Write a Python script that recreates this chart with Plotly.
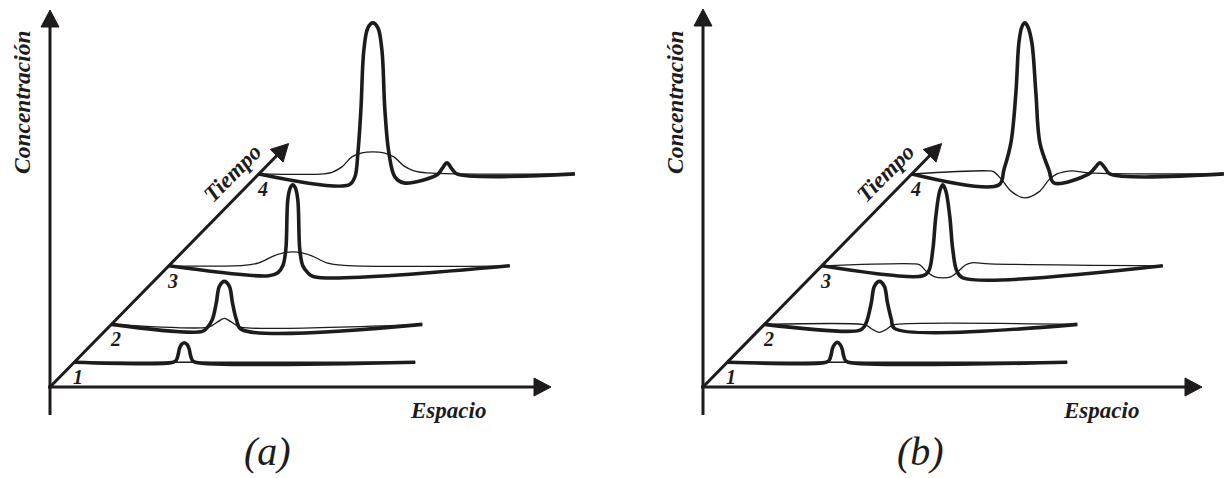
import numpy as np
import plotly.graph_objects as go

# ---------------------------------------------------------------------------
# Time slices shown along the oblique "Tiempo" axis
# ---------------------------------------------------------------------------
time_labels = ["1", "2", "3", "4"]
time_depth = [24.5, 62, 120, 211]      # position of each slice along the time axis

# ---------------------------------------------------------------------------
# Panel (a): concentration profiles, s = space from the time axis,
# c = concentration above the slice baseline. Thick = solute, thin = reference.
# ---------------------------------------------------------------------------
a1_thick_s = [0, 99, 102, 104, 105, 107, 110, 113, 115, 116, 118, 121, 341]
a1_thick_c = [0, 0, 2, 8, 13, 17.5, 19.5, 17.5, 13, 8, 2, 0, 0]
a1_thin_s = [0, 341]
a1_thin_c = [0, 0]

a2_thick_s = [0, 91, 96, 101, 105, 108, 113, 118, 121, 125, 130, 311]
a2_thick_c = [0, -7, -3, 5, 22, 38, 43, 38, 22, 5, -5, 0]
a2_thin_s = [0, 96, 101, 107, 113, 119, 125, 130, 311]
a2_thin_c = [0, -3, -1, 3, 6, 3, -1, -3, 0]

a3_thick_s = [0, 100, 109, 114, 117, 119, 121.5, 124, 126.5, 129, 131, 134, 139, 145, 341]
a3_thick_c = [0, -10, -7, 0, 16, 66, 78, 81, 78, 66, 16, 0, -7, -11, 0]
a3_thin_s = [0, 75, 90, 105, 115, 124, 133, 143, 158, 175, 341]
a3_thin_c = [0, 0.5, 3, 10, 13, 14, 13, 10, 3, 0.5, 0]

a4_thick_s = [0, 90, 96, 99, 102, 105, 109, 114, 119, 123, 126, 130, 136, 145,
              178, 183, 188, 193, 198, 316]
a4_thick_c = [0, -11, -3, 21, 64, 124, 146, 151, 146, 124, 64, 21, -3, -9,
              -1, 5, 11, 5, 0, 0]
a4_thin_s = [0, 65, 73, 83, 93, 103, 114, 125, 135, 145, 155, 168, 316]
a4_thin_c = [0, 0, 1.5, 7, 17, 21, 22, 21, 17, 8, 3, 1, 0]

# ---------------------------------------------------------------------------
# Panel (b)
# ---------------------------------------------------------------------------
b1_thick_s = [0, 99, 102, 104, 105, 107, 110, 113, 115, 116, 118, 121, 340]
b1_thick_c = [0, 0, 2, 8, 13, 17.5, 20, 17.5, 13, 8, 2, 0, 0]
b1_thin_s = [0, 340]
b1_thin_c = [0, 0]

b2_thick_s = [0, 95, 100, 103, 107, 110, 115, 120, 123, 127, 130, 313]
b2_thick_c = [0, -6, -2, 5, 22, 38, 43, 38, 22, 5, -4, 0]
b2_thin_s = [0, 98, 103, 109, 115, 121, 127, 132, 313]
b2_thin_c = [0, 0, -1.5, -5.5, -8, -5.5, -1.5, 0, 0]

b3_thick_s = [0, 101, 107, 111, 114, 118, 121, 124, 128, 131, 135, 141, 341]
b3_thick_c = [0, -10, -5, 16, 49, 75, 81, 75, 49, 16, -5, -12, 0]
b3_thin_s = [0, 91, 98, 105, 113, 121, 129, 136, 144, 150, 168, 341]
b3_thin_c = [0, 2, 1, -6, -11, -12, -11, -6, 1, 3, 2, 0]

b4_thick_s = [0, 87, 92, 99, 104, 107, 110, 113, 116, 120, 124, 128, 137, 142,
              177, 183, 188, 193, 198, 312]
b4_thick_c = [0, -11, 4, 31, 81, 131, 147, 151, 147, 131, 81, 31, 4, -9,
              0, 6, 11, 6, 0, 0]
b4_thin_s = [0, 77, 82, 90, 100, 113, 127, 137, 145, 152, 160, 177, 312]
b4_thin_c = [0, 3, 2, -6, -18, -24, -18, -6, 0, 2, 3, 1, 0]

# ---------------------------------------------------------------------------
# Drawing geometry and style
# ---------------------------------------------------------------------------
W, H = 1228, 478
INK = "#1e1b1c"
FONT = "Liberation Serif, Times New Roman, serif"
THICK_W, THIN_W, AXIS_W = 3.6, 1.3, 3.0

PANELS = [
    dict(tag="(a)", ox=50, oy=91, space_len=501, conc_len=377,
         curves=[(a1_thick_s, a1_thick_c, a1_thin_s, a1_thin_c),
                 (a2_thick_s, a2_thick_c, a2_thin_s, a2_thin_c),
                 (a3_thick_s, a3_thick_c, a3_thin_s, a3_thin_c),
                 (a4_thick_s, a4_thick_c, a4_thin_s, a4_thin_c)]),
    dict(tag="(b)", ox=703, oy=91, space_len=499, conc_len=378,
         curves=[(b1_thick_s, b1_thick_c, b1_thin_s, b1_thin_c),
                 (b2_thick_s, b2_thick_c, b2_thin_s, b2_thin_c),
                 (b3_thick_s, b3_thick_c, b3_thin_s, b3_thin_c),
                 (b4_thick_s, b4_thick_c, b4_thin_s, b4_thin_c)]),
]
TIME_DX, TIME_DY = 0.99, 1.01        # oblique projection of the time axis
TIME_AXIS_LEN = 241                  # length of the time arrow (in depth units)
HEAD_LEN, HEAD_HALF = 17, 9


def arrow_head(tip, direction):
    d = np.asarray(direction, float)
    d /= np.hypot(*d)
    n = np.array([-d[1], d[0]])
    tip = np.asarray(tip, float)
    base = tip - d * HEAD_LEN
    p1, p2 = base + n * HEAD_HALF, base - n * HEAD_HALF
    return (f"M {tip[0]:.2f} {tip[1]:.2f} L {p1[0]:.2f} {p1[1]:.2f} "
            f"L {p2[0]:.2f} {p2[1]:.2f} Z")


fig = go.Figure()
shapes, annotations = [], []

for p in PANELS:
    ox, oy = p["ox"], p["oy"]

    # Axes: concentration (vertical), space (horizontal), time (oblique)
    v_tip = (ox, oy + p["conc_len"])
    h_tip = (ox + p["space_len"], oy)
    t_tip = (ox + TIME_AXIS_LEN * TIME_DX, oy + TIME_AXIS_LEN * TIME_DY)
    for tip, start, dvec in [(v_tip, (ox, oy - 28), (0, 1)),
                             (h_tip, (ox - 2, oy), (1, 0)),
                             (t_tip, (ox, oy), (TIME_DX, TIME_DY))]:
        d = np.asarray(dvec, float) / np.hypot(*dvec)
        end = np.asarray(tip) - d * (HEAD_LEN - 2)
        shapes.append(dict(type="line", xref="x", yref="y",
                           x0=start[0], y0=start[1], x1=end[0], y1=end[1],
                           line=dict(color=INK, width=AXIS_W)))
        shapes.append(dict(type="path", xref="x", yref="y",
                           path=arrow_head(tip, dvec),
                           fillcolor=INK, line=dict(color=INK, width=1)))

    # Profiles on each time slice
    for k, (ts, tc, ns, nc) in enumerate(p["curves"]):
        x0 = ox + time_depth[k] * TIME_DX
        y0 = oy + time_depth[k] * TIME_DY
        fig.add_trace(go.Scatter(
            x=[x0 + s for s in ns], y=[y0 + c for c in nc], mode="lines",
            line=dict(color=INK, width=THIN_W, shape="spline", smoothing=1.0),
            hoverinfo="skip"))
        fig.add_trace(go.Scatter(
            x=[x0 + s for s in ts], y=[y0 + c for c in tc], mode="lines",
            line=dict(color=INK, width=THICK_W, shape="spline", smoothing=1.0),
            hoverinfo="skip"))
        annotations.append(dict(
            x=x0 + 4, y=y0 - 15, text=f"<b><i>{time_labels[k]}</i></b>",
            showarrow=False, xanchor="center", yanchor="middle",
            font=dict(family=FONT, size=20, color=INK)))

    # Axis titles and panel tag
    annotations += [
        dict(x=ox - 28, y=oy + 285, text="<b><i>Concentración</i></b>",
             textangle=-90, showarrow=False, xanchor="center", yanchor="middle",
             font=dict(family=FONT, size=23.5, color=INK)),
        dict(x=ox + 182, y=oy + 214, text="<b><i>Tiempo</i></b>",
             textangle=-45, showarrow=False, xanchor="center", yanchor="middle",
             font=dict(family=FONT, size=23, color=INK)),
        dict(x=ox + 398, y=oy - 23, text="<b><i>Espacio</i></b>",
             showarrow=False, xanchor="center", yanchor="middle",
             font=dict(family=FONT, size=23, color=INK)),
        dict(x=ox + 217, y=27, text=f"<i>{p['tag']}</i>", showarrow=False,
             xanchor="center", yanchor="middle",
             font=dict(family=FONT, size=40, color=INK)),
    ]

fig.update_layout(
    width=W, height=H, margin=dict(l=0, r=0, t=0, b=0),
    paper_bgcolor="white", plot_bgcolor="white", showlegend=False,
    xaxis=dict(range=[0, W], visible=False, fixedrange=True),
    yaxis=dict(range=[0, H], visible=False, fixedrange=True),
    shapes=shapes, annotations=annotations,
)

fig.write_html("out.html")
